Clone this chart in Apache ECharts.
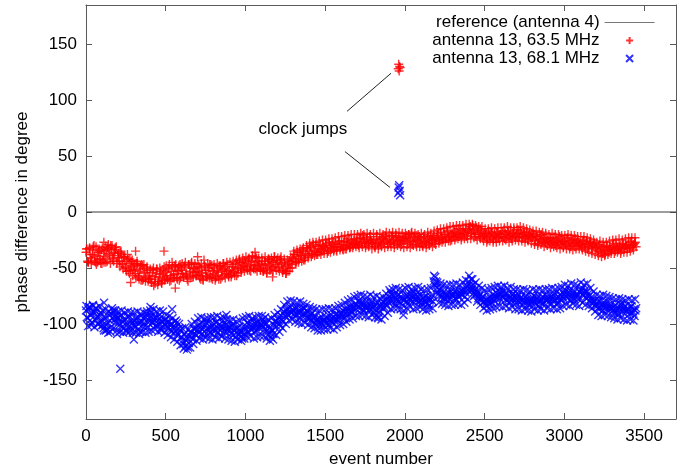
<!DOCTYPE html>
<html>
<head>
<meta charset="utf-8">
<script src="https://cdn.jsdelivr.net/npm/echarts@6/dist/echarts.min.js"></script>
<style>
html,body{margin:0;padding:0;background:#fff;}
#chart{width:687px;height:473px;}
</style>
</head>
<body>
<div id="chart"></div>
<script>
// ---- data ----
// arrays a: events 0,10,20,... ; arrays b: events 5,15,25,... ; arrays c: events 3,13,23,...
const eventStep = 10;

const red635a = [
-36,-44,-33,-41,-38,-30,-45,-39,-35,-42,
-46,-37,-40,-34,-29,-38,-33,-41,-36,-31,
-39,-44,-35,-47,-41,-50,-38,-46,-52,-43,
-49,-55,-44,-58,-51,-47,-60,-54,-50,-62,
-57,-63,-52,-60,-55,-65,-58,-53,-61,-49,
-54,-60,-51,-57,-45,-56,-49,-59,-53,-47,
-52,-58,-48,-55,-62,-50,-46,-54,-51,-57,
-53,-49,-60,-55,-43,-52,-58,-50,-56,-48,
-55,-61,-52,-57,-49,-53,-46,-51,-55,-47,
-52,-58,-49,-54,-50,-47,-43,-50,-45,-49,
-46,-51,-42,-48,-44,-50,-45,-41,-49,-46,
-48,-53,-44,-50,-46,-43,-49,-45,-40,-47,
-45,-49,-42,-47,-51,-48,-53,-46,-50,-44,
-42,-38,-45,-40,-36,-39,-35,-41,-37,-33,
-35,-31,-38,-34,-30,-36,-33,-29,-35,-31,
-32,-28,-35,-30,-33,-27,-31,-34,-29,-26,
-29,-33,-26,-30,-27,-24,-31,-28,-25,-29,
-26,-30,-23,-27,-24,-28,-25,-29,-22,-27,
-27,-31,-24,-28,-25,-29,-23,-26,-22,-27,
-24,-28,-21,-25,-23,-27,-22,-26,-29,-24,
-25,-21,-28,-24,-19,-26,-23,-29,-25,-22,
-26,-30,-23,-27,-24,-28,-22,-25,-21,-26,
-23,-19,-26,-22,-25,-20,-24,-18,-22,-21,
-20,-17,-23,-19,-22,-16,-20,-18,-15,-21,
-17,-13,-19,-16,-20,-14,-18,-22,-17,-21,
-22,-19,-25,-21,-18,-23,-20,-24,-19,-22,
-20,-17,-23,-19,-22,-18,-21,-24,-19,-22,
-20,-16,-22,-19,-23,-18,-21,-25,-20,-22,
-23,-20,-26,-22,-25,-21,-27,-24,-28,-23,
-26,-23,-29,-25,-28,-24,-27,-22,-29,-26,
-26,-29,-23,-27,-31,-25,-28,-24,-30,-27,
-28,-32,-25,-29,-26,-31,-27,-33,-30,-28,
-32,-35,-29,-33,-37,-31,-34,-30,-36,-33,
-32,-28,-35,-31,-34,-30,-33,-29,-32,-30,
-29,-32,-26,-30,-28,-31
];
const red635b = [
-33,-45,-38,-43,-31,-40,-47,-36,-42,-34,
-43,-35,-45,-32,-39,-30,-42,-37,-34,-44,
-41,-36,-46,-40,-49,-44,-53,-42,-48,-51,
-52,-46,-57,-53,-61,-48,-55,-59,-52,-58,
-60,-54,-66,-58,-51,-62,-56,-64,-55,-59,
-57,-50,-62,-53,-59,-48,-55,-52,-61,-50,
-55,-49,-56,-60,-47,-53,-58,-50,-54,-49,
-56,-50,-54,-61,-49,-57,-52,-47,-59,-53,
-50,-58,-54,-48,-60,-51,-56,-49,-53,-58,
-55,-49,-53,-46,-57,-51,-45,-52,-48,-44,
-49,-43,-52,-47,-40,-48,-51,-44,-47,-52,
-44,-51,-47,-55,-42,-48,-51,-44,-49,-43,
-50,-43,-46,-52,-45,-55,-49,-44,-47,-41,
-38,-44,-36,-42,-39,-34,-43,-38,-32,-39,
-32,-37,-29,-35,-38,-31,-36,-33,-30,-34,
-30,-35,-27,-32,-29,-34,-28,-31,-26,-32,
-31,-27,-33,-26,-29,-32,-25,-30,-27,-24,
-29,-24,-28,-21,-26,-30,-23,-27,-25,-28,
-25,-29,-22,-30,-27,-24,-28,-21,-25,-29,
-27,-22,-26,-29,-21,-25,-28,-23,-26,-22,
-23,-27,-20,-26,-29,-22,-25,-21,-27,-24,
-28,-22,-26,-29,-21,-25,-27,-23,-28,-24,
-21,-25,-18,-24,-20,-23,-17,-22,-26,-19,
-22,-18,-21,-15,-20,-23,-17,-19,-22,-16,
-15,-19,-12,-18,-22,-16,-20,-15,-23,-19,
-20,-24,-17,-22,-19,-25,-21,-18,-23,-20,
-22,-18,-24,-20,-17,-21,-23,-19,-16,-21,
-23,-19,-17,-22,-20,-24,-18,-21,-23,-19,
-21,-25,-22,-28,-24,-20,-26,-23,-27,-25,
-28,-24,-27,-23,-30,-26,-29,-25,-27,-31,
-28,-24,-30,-26,-29,-25,-31,-27,-26,-29,
-30,-26,-31,-28,-33,-29,-27,-32,-28,-31,
-34,-30,-36,-32,-35,-38,-31,-34,-32,-35,
-30,-34,-29,-33,-31,-35,-28,-32,-30,-33,
-31,-27,-32,-29,-27
];
const red635c = [
-33,-45,-32,-46,-34,-44,-31,-45,-33,-46,
-32,-45,-31,-44,-33,-46,-30,-44,-32,-46,
-37,-49,-38,-51,-40,-53,-42,-55,-44,-57,
-47,-59,-46,-60,-48,-61,-47,-62,-49,-60,
-51,-63,-50,-64,-51,-62,-50,-63,-52,-61,
-48,-60,-47,-61,-49,-59,-47,-60,-48,-59,
-46,-58,-45,-57,-47,-59,-45,-58,-46,-57,
-47,-59,-46,-60,-48,-58,-46,-59,-47,-60,
-47,-59,-46,-60,-48,-58,-46,-59,-45,-57,
-45,-56,-44,-57,-43,-55,-42,-54,-41,-53,
-40,-52,-41,-53,-39,-51,-40,-53,-41,-52,
-41,-53,-40,-54,-42,-52,-41,-53,-40,-52,
-41,-53,-40,-54,-42,-55,-43,-53,-40,-50,
-35,-46,-34,-45,-33,-44,-32,-43,-30,-41,
-28,-40,-27,-39,-27,-38,-26,-38,-25,-37,
-25,-37,-24,-36,-24,-35,-23,-35,-22,-34,
-22,-34,-21,-33,-21,-32,-20,-32,-20,-31,
-20,-32,-19,-31,-20,-32,-19,-31,-20,-33,
-19,-32,-20,-33,-19,-31,-20,-32,-18,-31,
-19,-31,-18,-32,-19,-30,-18,-31,-19,-32,
-19,-31,-20,-32,-18,-30,-19,-31,-20,-31,
-19,-31,-20,-32,-18,-30,-19,-31,-17,-29,
-16,-28,-15,-27,-15,-27,-14,-26,-13,-25,
-13,-25,-12,-24,-12,-25,-12,-24,-11,-24,
-11,-24,-11,-23,-12,-25,-13,-24,-13,-26,
-15,-27,-15,-26,-14,-27,-15,-27,-14,-26,
-14,-26,-14,-25,-13,-27,-14,-26,-14,-25,
-14,-26,-13,-26,-14,-27,-15,-26,-16,-28,
-17,-29,-17,-30,-18,-29,-18,-31,-19,-30,
-20,-32,-19,-31,-20,-32,-20,-33,-21,-32,
-21,-33,-20,-33,-21,-34,-21,-33,-22,-33,
-22,-34,-22,-35,-23,-36,-24,-37,-25,-38,
-27,-39,-26,-40,-27,-39,-27,-38,-26,-37,
-25,-37,-25,-36,-24,-37,-25,-36,-24,-36,
-23,-35,-23,-34,-23
];

const blue681a = [
-88,-95,-85,-92,-99,-90,-86,-94,-100,-93,
-98,-104,-95,-101,-108,-97,-91,-88,-96,-93,
-95,-101,-92,-98,-104,-96,-100,-93,-106,-99,
-97,-103,-94,-100,-107,-98,-95,-102,-91,-99,
-95,-90,-99,-94,-101,-97,-92,-104,-98,-100,
-96,-102,-98,-105,-100,-108,-103,-99,-110,-106,
-112,-118,-109,-115,-121,-111,-107,-114,-105,-110,
-102,-108,-99,-105,-111,-101,-97,-106,-103,-109,
-100,-106,-98,-104,-110,-102,-97,-107,-101,-105,
-103,-109,-100,-106,-112,-104,-110,-107,-113,-102,
-105,-99,-108,-102,-96,-104,-100,-106,-98,-103,
-100,-96,-105,-99,-110,-104,-112,-106,-101,-97,
-99,-94,-102,-96,-89,-93,-87,-92,-85,-90,
-88,-93,-85,-90,-95,-87,-91,-86,-94,-89,
-93,-97,-90,-95,-100,-96,-102,-98,-94,-101,
-98,-94,-101,-96,-92,-99,-95,-91,-97,-93,
-92,-88,-95,-90,-86,-91,-84,-89,-85,-82,
-83,-79,-86,-81,-88,-84,-80,-85,-87,-82,
-86,-90,-83,-94,-88,-84,-80,-85,-82,-78,
-76,-72,-80,-75,-82,-78,-74,-81,-77,-92,
-78,-74,-82,-77,-73,-80,-75,-79,-72,-77,
-79,-83,-76,-81,-77,-84,-78,-74,-62,-58,
-68,-73,-70,-76,-72,-78,-74,-79,-75,-71,
-75,-71,-78,-73,-76,-70,-74,-69,-72,-66,
-62,-67,-70,-65,-74,-71,-77,-73,-79,-76,
-80,-84,-77,-82,-78,-74,-79,-72,-76,-71,
-74,-70,-77,-73,-79,-75,-81,-77,-73,-79,
-78,-74,-81,-76,-83,-79,-75,-80,-84,-77,
-79,-75,-82,-77,-84,-80,-76,-81,-74,-78,
-78,-82,-75,-80,-73,-77,-81,-74,-79,-72,
-74,-70,-77,-72,-79,-75,-71,-76,-73,-78,
-72,-68,-75,-70,-77,-73,-80,-76,-82,-79,
-82,-86,-79,-84,-88,-81,-85,-80,-87,-83,
-86,-90,-83,-88,-92,-85,-81,-87,-84,-89,
-87,-91,-84,-89,-93,-86
];
const blue681b = [
-94,-87,-97,-91,-84,-96,-89,-93,-98,-90,
-101,-94,-106,-99,-92,-103,-95,-90,-99,-95,
-98,-93,-103,-96,-100,-107,-94,-102,-97,-101,
-101,-96,-105,-98,-93,-102,-99,-94,-103,-97,
-93,-99,-96,-102,-94,-100,-95,-98,-103,-96,
-99,-104,-101,-107,-103,-98,-106,-109,-104,-112,
-115,-109,-120,-113,-117,-108,-112,-104,-109,-106,
-105,-101,-109,-103,-107,-99,-104,-108,-100,-106,
-104,-99,-108,-101,-106,-103,-100,-104,-108,-102,
-106,-102,-110,-104,-108,-103,-107,-111,-105,-109,
-102,-107,-100,-105,-101,-107,-103,-99,-104,-100,
-103,-99,-101,-106,-102,-108,-105,-109,-98,-102,
-96,-100,-93,-98,-92,-88,-91,-86,-90,-87,
-91,-87,-92,-88,-90,-93,-86,-92,-89,-95,
-95,-91,-98,-93,-97,-99,-95,-100,-97,-96,
-95,-99,-93,-98,-95,-97,-92,-96,-94,-90,
-90,-93,-87,-92,-88,-85,-90,-86,-83,-87,
-85,-81,-83,-87,-82,-86,-83,-88,-84,-80,
-83,-87,-81,-90,-85,-82,-87,-79,-84,-80,
-79,-74,-78,-73,-79,-75,-80,-76,-83,-79,
-76,-80,-74,-79,-76,-72,-78,-75,-80,-74,
-81,-77,-80,-75,-82,-79,-76,-80,-65,-62,
-71,-75,-68,-74,-77,-73,-76,-72,-78,-74,
-73,-77,-71,-75,-72,-74,-71,-76,-68,-70,
-65,-60,-68,-72,-69,-73,-75,-78,-76,-80,
-82,-79,-80,-76,-81,-77,-75,-78,-74,-77,
-72,-76,-74,-78,-73,-77,-79,-74,-76,-81,
-76,-80,-77,-79,-81,-76,-78,-82,-79,-81,
-77,-81,-79,-75,-80,-78,-83,-77,-79,-76,
-80,-76,-78,-75,-79,-82,-76,-78,-75,-77,
-72,-76,-74,-70,-77,-73,-78,-74,-75,-71,
-70,-74,-72,-76,-71,-75,-78,-79,-80,-84,
-84,-80,-86,-82,-85,-83,-87,-83,-85,-86,
-88,-84,-86,-90,-87,-83,-89,-85,-88,-86,
-89,-85,-90,-87,-88
];
const blue681c = [
-84,-102,-85,-101,-83,-103,-86,-100,-84,-102,
-88,-106,-87,-105,-89,-107,-86,-104,-88,-106,
-89,-107,-88,-108,-90,-106,-89,-107,-90,-108,
-90,-108,-89,-109,-91,-107,-90,-108,-89,-107,
-88,-106,-87,-105,-89,-107,-88,-106,-89,-108,
-92,-110,-93,-112,-95,-114,-97,-116,-100,-119,
-104,-122,-103,-123,-105,-121,-100,-118,-98,-115,
-95,-113,-94,-114,-96,-112,-95,-113,-94,-114,
-94,-112,-93,-113,-95,-111,-94,-113,-96,-114,
-97,-115,-96,-116,-98,-114,-97,-115,-95,-113,
-94,-112,-93,-111,-95,-113,-94,-112,-93,-111,
-93,-111,-94,-113,-96,-115,-95,-114,-92,-110,
-90,-107,-87,-104,-83,-100,-80,-97,-79,-96,
-80,-98,-81,-99,-80,-100,-82,-99,-83,-101,
-85,-103,-86,-104,-87,-106,-88,-106,-87,-105,
-87,-105,-86,-104,-87,-105,-86,-103,-84,-101,
-83,-100,-81,-98,-79,-96,-78,-95,-76,-93,
-75,-93,-74,-92,-75,-93,-76,-94,-74,-92,
-76,-94,-75,-95,-77,-96,-76,-93,-73,-90,
-70,-87,-69,-86,-68,-86,-69,-87,-70,-88,
-68,-86,-67,-85,-69,-87,-68,-86,-67,-85,
-69,-87,-70,-88,-69,-87,-68,-86,-57,-66,
-63,-81,-64,-82,-65,-83,-66,-84,-65,-83,
-65,-83,-64,-82,-65,-83,-63,-81,-61,-78,
-57,-70,-60,-75,-63,-80,-66,-83,-68,-86,
-70,-88,-69,-87,-68,-86,-67,-85,-66,-84,
-67,-85,-66,-84,-68,-86,-67,-85,-69,-87,
-69,-87,-70,-88,-69,-87,-70,-88,-71,-89,
-69,-87,-70,-88,-69,-87,-70,-88,-69,-86,
-69,-87,-68,-86,-69,-87,-68,-86,-67,-84,
-65,-83,-66,-84,-64,-82,-65,-83,-66,-84,
-63,-81,-65,-83,-64,-84,-68,-86,-71,-89,
-74,-92,-75,-93,-74,-92,-75,-93,-76,-94,
-77,-95,-78,-96,-77,-95,-78,-96,-79,-97,
-78,-96,-79,-97,-78
];

// isolated points (outliers and the clock jumps)
const redExtraEvents  = [112, 280, 311, 489, 560, 700, 1060, 1170, 1958, 1961, 1964, 1967, 1970];
const redExtraValues  = [-27, -63, -35, -35, -68, -40, -36, -58, 128, 132, 126, 130, 129];
const blueExtraEvents = [113, 195, 215, 300, 405, 540, 880, 1958, 1961, 1964, 1967, 1970];
const blueExtraValues = [-81, -109, -140, -114, -85, -87, -92, 17, 22, 24, 19, 15];

const xTicks = [0, 500, 1000, 1500, 2000, 2500, 3000, 3500];
const yTicks = [-150, -100, -50, 0, 50, 100, 150];
const xRange = [0, 3700];
const yRange = [-185, 185];

const refName  = 'reference (antenna 4)';
const redName  = 'antenna 13, 63.5 MHz';
const blueName = 'antenna 13, 68.1 MHz';

// ---- build ----
function buildSeries(a, b, c, extraEv, extraVal) {
  const out = [];
  a.forEach((v, i) => out.push([i * eventStep, v]));
  b.forEach((v, i) => out.push([i * eventStep + 5, v]));
  c.forEach((v, i) => out.push([i * eventStep + 3, v]));
  extraEv.forEach((e, i) => out.push([e, extraVal[i]]));
  return out;
}

const FONT = 'Liberation Sans';
const txt = { fontFamily: FONT, fontSize: 17, color: '#000' };
const frame = '#5a5a5a';
const plusPath = 'path://M0,5L10,5M5,0L5,10';
const crossPath = 'path://M0,0L10,10M10,0L0,10';
// horizontal stroke spanning a 50x7 box (box corners are zero-length moves)
const hlinePath = 'path://M0,0L0.01,0M50,7L50.01,7M0,3.5L50,3.5';

const chart = echarts.init(document.getElementById('chart'), null, { renderer: 'canvas' });

const tickStyle = (vals) => ({ show: true, inside: true, length: 6, lineStyle: { color: frame, width: 1 }, customValues: vals });
const baseX = {
  type: 'value', min: xRange[0], max: xRange[1], show: true,
  axisLine: { show: true, onZero: false, lineStyle: { color: frame, width: 1 } },
  splitLine: { show: false }
};
const baseY = {
  type: 'value', min: yRange[0], max: yRange[1], show: true,
  axisLine: { show: true, onZero: false, lineStyle: { color: frame, width: 1 } },
  splitLine: { show: false }
};

chart.setOption({
  animation: false,
  backgroundColor: '#fff',
  textStyle: { fontFamily: FONT },
  grid: { left: 86, right: 11, top: 5, bottom: 52, containLabel: false },
  xAxis: [
    Object.assign({}, baseX, {
      position: 'bottom',
      name: 'event number', nameLocation: 'middle', nameGap: 32,
      nameTextStyle: txt,
      axisTick: tickStyle(xTicks),
      axisLabel: Object.assign({ margin: 9, customValues: xTicks, formatter: (v) => String(v) }, txt)
    }),
    Object.assign({}, baseX, {
      position: 'top',
      axisTick: tickStyle(xTicks),
      axisLabel: { show: false, customValues: xTicks }
    })
  ],
  yAxis: [
    Object.assign({}, baseY, {
      position: 'left',
      name: 'phase difference in degree', nameLocation: 'middle', nameGap: 55,
      nameTextStyle: txt,
      axisTick: tickStyle(yTicks),
      axisLabel: Object.assign({ margin: 9, customValues: yTicks, formatter: (v) => String(v) }, txt)
    }),
    Object.assign({}, baseY, {
      position: 'right',
      axisTick: tickStyle(yTicks),
      axisLabel: { show: false, customValues: yTicks }
    })
  ],
  legend: {
    orient: 'vertical',
    align: 'right',
    right: 27,
    top: 9,
    itemWidth: 50,
    itemHeight: 7,
    itemGap: 1,
    textStyle: Object.assign({ lineHeight: 17 }, txt),
    data: [
      { name: refName, icon: hlinePath, itemStyle: { color: '#555', borderColor: '#555', borderWidth: 0.8 } },
      redName, blueName
    ]
  },
  series: [
    {
      name: refName, type: 'line', xAxisIndex: 1, yAxisIndex: 1,
      data: [[xRange[0], 0], [xRange[1], 0]],
      symbol: 'none', showSymbol: false,
      lineStyle: { color: '#3a3a3a', width: 1 },
      itemStyle: { color: '#3a3a3a', borderColor: '#3a3a3a', borderWidth: 1 },
      z: 1,
      markLine: {
        silent: true, symbol: ['none', 'none'],
        lineStyle: { color: '#222', width: 1, type: 'solid' },
        label: { show: false },
        data: [
          [{ coord: [1637, 90] }, { coord: [1913, 124] }],
          [{ coord: [1624, 54] }, { coord: [1906, 22] }]
        ]
      },
      markPoint: {
        silent: true, symbol: 'circle', symbolSize: 0,
        label: Object.assign({ show: true, position: 'inside', formatter: 'clock jumps' }, txt),
        data: [{ coord: [1360, 74] }]
      }
    },
    {
      name: redName, type: 'scatter', xAxisIndex: 0, yAxisIndex: 0,
      data: buildSeries(red635a, red635b, red635c, redExtraEvents, redExtraValues),
      symbol: plusPath, symbolSize: 9,
      itemStyle: { color: '#ff0000', borderColor: '#ff0000', borderWidth: 1.4 },
      z: 3
    },
    {
      name: blueName, type: 'scatter', xAxisIndex: 0, yAxisIndex: 0,
      data: buildSeries(blue681a, blue681b, blue681c, blueExtraEvents, blueExtraValues),
      symbol: crossPath, symbolSize: 8,
      itemStyle: { color: '#0000ff', borderColor: '#0000ff', borderWidth: 1.4 },
      z: 2
    }
  ]
});
</script>
</body>
</html>
